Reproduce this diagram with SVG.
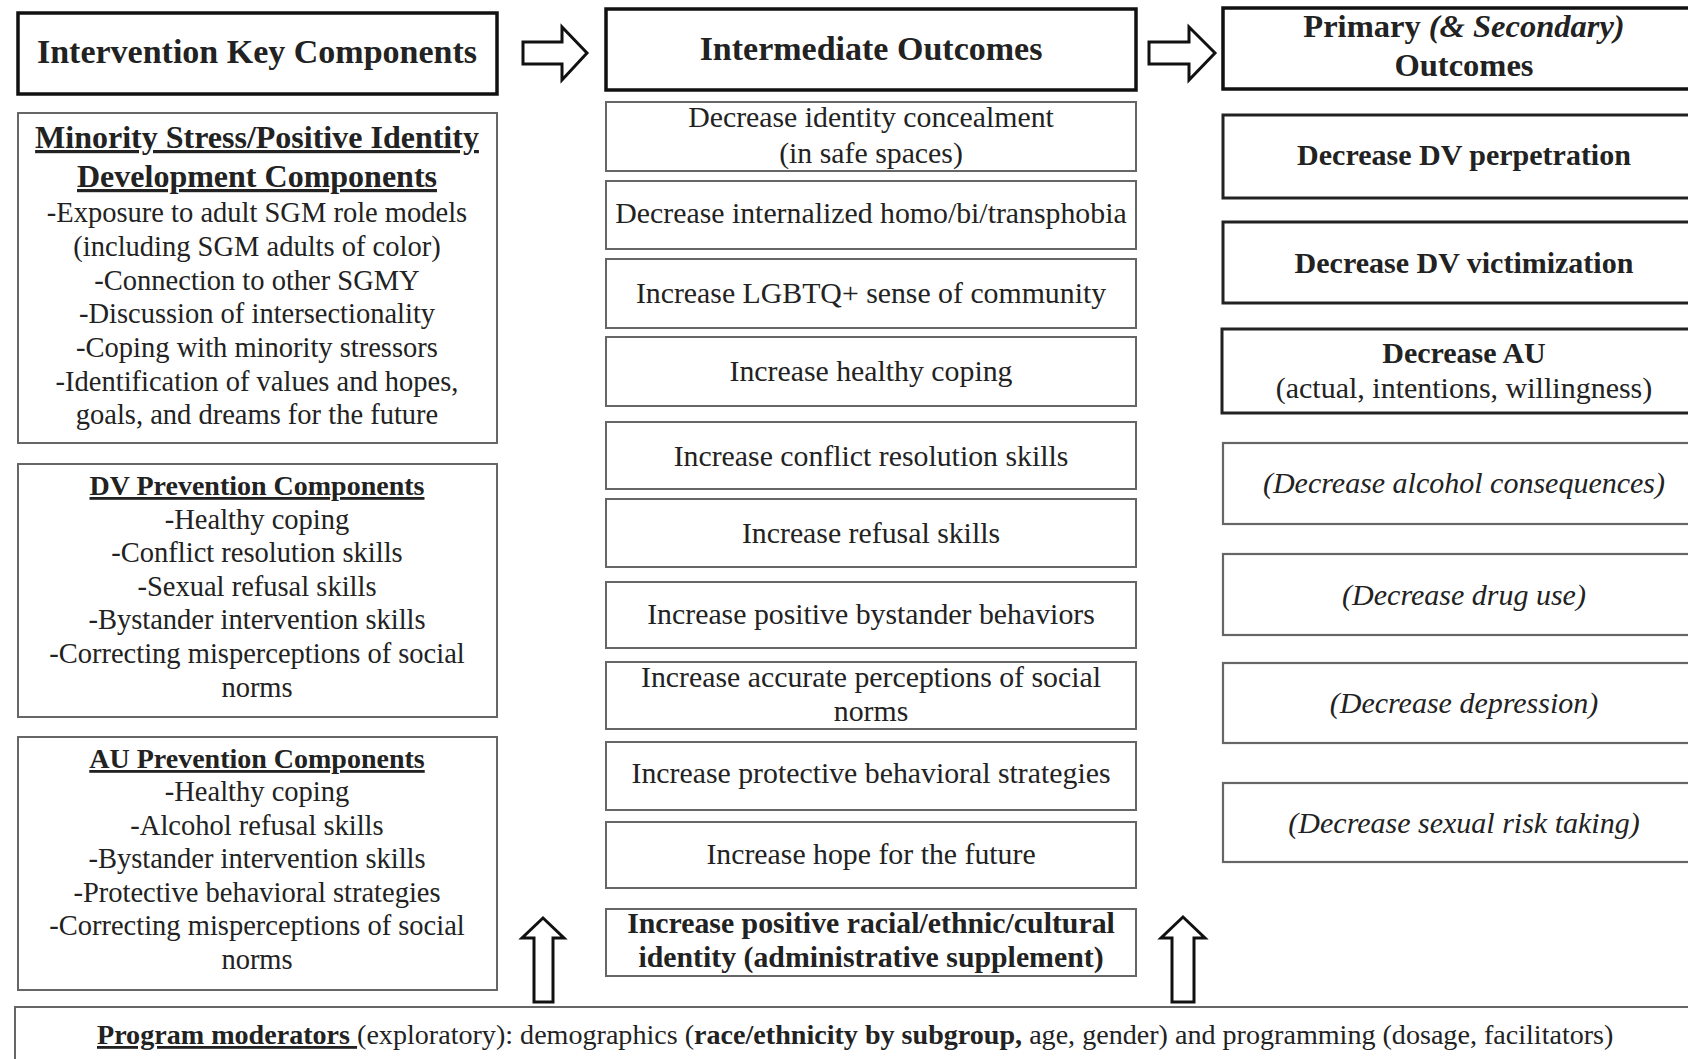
<svg xmlns="http://www.w3.org/2000/svg" width="1688" height="1059" viewBox="0 0 1688 1059">
  <style>
    text { font-family: "Liberation Serif", "Times New Roman", serif; fill: #222; }
    .hdr { fill: #fff; stroke: #111; stroke-width: 3.5; }
    .box { fill: #fff; stroke: #666; stroke-width: 2; }
    .pri { fill: #fff; stroke: #222; stroke-width: 3; }
    .sec { fill: #fff; stroke: #666; stroke-width: 2.2; }
    .arrow { fill: #fff; stroke: #111; stroke-width: 3; stroke-linejoin: miter; }
    .h1 { font-size: 34px; font-weight: bold; text-anchor: middle; }
    .rh { font-size: 32.5px; font-weight: bold; text-anchor: middle; }
    .ttl { font-weight: bold; text-decoration: underline; text-anchor: middle; }
    .lt { font-size: 28.5px; text-anchor: middle; }
    .mt { font-size: 29.8px; text-anchor: middle; }
    .rt { font-size: 30px; text-anchor: middle; }
    .b { font-weight: bold; }
    .i { font-style: italic; }
  </style>

  <rect width="1688" height="1059" fill="#fff"/>

  <!-- Column 1: intervention components -->
  <g id="key-components">
    <rect class="hdr" x="18" y="13" width="479" height="81"/>
    <text class="h1" x="257" y="63">Intervention Key Components</text>
  </g>
  <g id="minority-stress">
    <rect class="box" x="18" y="113" width="479" height="330"/>
    <text class="ttl" x="257" y="148" font-size="32">Minority Stress/Positive Identity</text>
    <text class="ttl" x="257" y="187" font-size="32">Development Components</text>
    <text class="lt" x="257" y="222">-Exposure to adult SGM role models</text>
    <text class="lt" x="257" y="256">(including SGM adults of color)</text>
    <text class="lt" x="257" y="290">-Connection to other SGMY</text>
    <text class="lt" x="257" y="323">-Discussion of intersectionality</text>
    <text class="lt" x="257" y="357">-Coping with minority stressors</text>
    <text class="lt" x="257" y="391">-Identification of values and hopes,</text>
    <text class="lt" x="257" y="424">goals, and dreams for the future</text>
  </g>
  <g id="dv-prevention">
    <rect class="box" x="18" y="464" width="479" height="253"/>
    <text class="ttl" x="257" y="495" font-size="28">DV Prevention Components</text>
    <text class="lt" x="257" y="529">-Healthy coping</text>
    <text class="lt" x="257" y="562">-Conflict resolution skills</text>
    <text class="lt" x="257" y="596">-Sexual refusal skills</text>
    <text class="lt" x="257" y="629">-Bystander intervention skills</text>
    <text class="lt" x="257" y="663">-Correcting misperceptions of social</text>
    <text class="lt" x="257" y="697">norms</text>
  </g>
  <g id="au-prevention">
    <rect class="box" x="18" y="737" width="479" height="253"/>
    <text class="ttl" x="257" y="768" font-size="28">AU Prevention Components</text>
    <text class="lt" x="257" y="801">-Healthy coping</text>
    <text class="lt" x="257" y="835">-Alcohol refusal skills</text>
    <text class="lt" x="257" y="868">-Bystander intervention skills</text>
    <text class="lt" x="257" y="902">-Protective behavioral strategies</text>
    <text class="lt" x="257" y="935">-Correcting misperceptions of social</text>
    <text class="lt" x="257" y="969">norms</text>
  </g>

  <!-- Column 2: intermediate outcomes -->
  <g id="intermediate">
    <rect class="hdr" x="606" y="9" width="530" height="81"/>
    <text class="h1" x="871" y="60">Intermediate Outcomes</text>
  </g>
  <g id="io-concealment">
    <rect class="box" x="606" y="102" width="530" height="69"/>
    <text class="mt" x="871" y="127">Decrease identity concealment</text>
    <text class="mt" x="871" y="163">(in safe spaces)</text>
  </g>
  <g id="io-phobia">
    <rect class="box" x="606" y="181" width="530" height="68"/>
    <text class="mt" x="871" y="223">Decrease internalized homo/bi/transphobia</text>
  </g>
  <g id="io-community">
    <rect class="box" x="606" y="259" width="530" height="69"/>
    <text class="mt" x="871" y="303">Increase LGBTQ+ sense of community</text>
  </g>
  <g id="io-coping">
    <rect class="box" x="606" y="337" width="530" height="69"/>
    <text class="mt" x="871" y="381">Increase healthy coping</text>
  </g>
  <g id="io-conflict">
    <rect class="box" x="606" y="422" width="530" height="67"/>
    <text class="mt" x="871" y="466">Increase conflict resolution skills</text>
  </g>
  <g id="io-refusal">
    <rect class="box" x="606" y="499" width="530" height="68"/>
    <text class="mt" x="871" y="543">Increase refusal skills</text>
  </g>
  <g id="io-bystander">
    <rect class="box" x="606" y="582" width="530" height="66"/>
    <text class="mt" x="871" y="624">Increase positive bystander behaviors</text>
  </g>
  <g id="io-norms">
    <rect class="box" x="606" y="662" width="530" height="67"/>
    <text class="mt" x="871" y="687">Increase accurate perceptions of social</text>
    <text class="mt" x="871" y="721">norms</text>
  </g>
  <g id="io-protective">
    <rect class="box" x="606" y="742" width="530" height="68"/>
    <text class="mt" x="871" y="783">Increase protective behavioral strategies</text>
  </g>
  <g id="io-hope">
    <rect class="box" x="606" y="822" width="530" height="66"/>
    <text class="mt" x="871" y="864">Increase hope for the future</text>
  </g>
  <g id="io-identity">
    <rect class="box" x="606" y="909" width="530" height="67"/>
    <text class="mt b" x="871" y="933">Increase positive racial/ethnic/cultural</text>
    <text class="mt b" x="871" y="967">identity (administrative supplement)</text>
  </g>

  <!-- Column 3: primary and secondary outcomes -->
  <g id="outcomes">
    <rect class="hdr" x="1223" y="8" width="490" height="81"/>
    <text class="rh" x="1464" y="37">Primary <tspan class="i">(&amp; Secondary)</tspan></text>
    <text class="rh" x="1464" y="76">Outcomes</text>
  </g>
  <g id="po-dv-perp">
    <rect class="pri" x="1223" y="115" width="490" height="83"/>
    <text class="rt b" x="1464" y="165">Decrease DV perpetration</text>
  </g>
  <g id="po-dv-vict">
    <rect class="pri" x="1223" y="222" width="490" height="81"/>
    <text class="rt b" x="1464" y="273">Decrease DV victimization</text>
  </g>
  <g id="po-au">
    <rect class="pri" x="1222" y="329" width="490" height="84"/>
    <text class="rt b" x="1464" y="363">Decrease AU</text>
    <text class="rt" x="1464" y="398">(actual, intentions, willingness)</text>
  </g>
  <g id="so-alcohol">
    <rect class="sec" x="1223" y="443" width="490" height="81"/>
    <text class="rt i" x="1464" y="493">(Decrease alcohol consequences)</text>
  </g>
  <g id="so-drug">
    <rect class="sec" x="1223" y="554" width="490" height="81"/>
    <text class="rt i" x="1464" y="605">(Decrease drug use)</text>
  </g>
  <g id="so-depression">
    <rect class="sec" x="1223" y="663" width="490" height="80"/>
    <text class="rt i" x="1464" y="713">(Decrease depression)</text>
  </g>
  <g id="so-sexual">
    <rect class="sec" x="1223" y="783" width="490" height="79"/>
    <text class="rt i" x="1464" y="833">(Decrease sexual risk taking)</text>
  </g>

  <!-- Moderators band along the bottom -->
  <g id="moderators">
    <rect class="box" x="15" y="1007" width="1700" height="70"/>
    <text x="97" y="1044" font-size="28.1"><tspan class="b" text-decoration="underline">Program moderators </tspan>(exploratory): demographics (<tspan class="b">race/ethnicity by subgroup,</tspan> age, gender) and programming (dosage, facilitators)</text>
  </g>

  <!-- Block arrows -->
  <g id="connectors">
    <path class="arrow" d="M523,42 H562 V27 L587,53 L562,80 V64 H523 Z"/>
    <path class="arrow" d="M1149,42 H1189 V27 L1215,53 L1189,80 V64 H1149 Z"/>
    <path class="arrow" d="M534,1002 V938 H522 L543,918 L564,938 H553 V1002 Z"/>
    <path class="arrow" d="M1172,1002 V938 H1161 L1183,917 L1205,938 H1194 V1002 Z"/>
  </g>
</svg>
